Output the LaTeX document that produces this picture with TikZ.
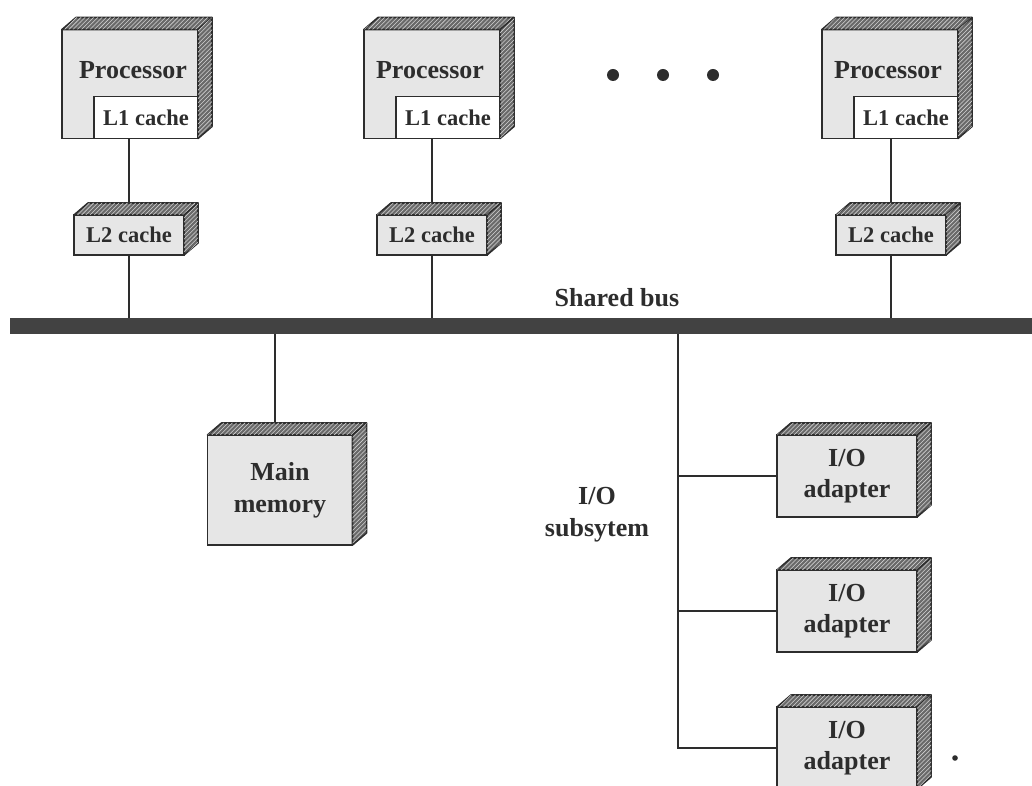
\documentclass[tikz,border=0pt]{standalone}
\usepackage{fontspec}
\setmainfont{Liberation Serif}
\usetikzlibrary{calc,patterns,backgrounds}
\definecolor{inkgray}{RGB}{45,45,45}
\definecolor{frontgray}{RGB}{230,230,230}
\definecolor{shadegray}{RGB}{105,105,105}
\tikzset{
  unit/.style={draw=inkgray, line width=1.3pt, fill=frontgray, inner sep=0pt, outer sep=0pt,
               align=center, text=inkgray, font=\fontsize{18.5}{22.5}\selectfont\bfseries},
  cachebox/.style={unit, font=\fontsize{16}{19}\selectfont\bfseries},
  lone/.style={cachebox, fill=white},
  face/.style={draw=inkgray, line width=1.1pt, fill=shadegray, line join=round,
               postaction={pattern=north east lines, pattern color=gray!35}},
  wire/.style={draw=inkgray, line width=1.4pt},
  busbar/.style={fill=inkgray!90, inner sep=0pt, minimum width=25.55cm, minimum height=0.4cm},
  txt/.style={text=inkgray, align=center, font=\fontsize{18.5}{22.5}\selectfont\bfseries},
}
\begin{document}
\begin{tikzpicture}[x=0.025cm, y=-0.025cm]
  \useasboundingbox (0,0) rectangle (1032,786);

  % processors with their L1 caches
  \node[unit, minimum width=3.4cm, minimum height=2.725cm] (p1) at (130,84) {};
  \node[unit, minimum width=3.4cm, minimum height=2.725cm] (p2) at (432,84) {};
  \node[unit, minimum width=3.4cm, minimum height=2.725cm] (p3) at (890,84) {};
  \node[txt] (p1t) at (133,70) {Processor};
  \node[txt] (p2t) at (430,70) {Processor};
  \node[txt] (p3t) at (888,70) {Processor};
  \node[lone, minimum width=2.6cm, minimum height=1.05cm, anchor=south east] (l1a) at (p1.south east) {L1 cache};
  \node[lone, minimum width=2.6cm, minimum height=1.05cm, anchor=south east] (l1b) at (p2.south east) {L1 cache};
  \node[lone, minimum width=2.6cm, minimum height=1.05cm, anchor=south east] (l1c) at (p3.south east) {L1 cache};

  % L2 caches
  \node[cachebox, minimum width=2.75cm, minimum height=1cm] (c1) at (129,235) {L2 cache};
  \node[cachebox, minimum width=2.75cm, minimum height=1cm] (c2) at (432,235) {L2 cache};
  \node[cachebox, minimum width=2.75cm, minimum height=1cm] (c3) at (891,235) {L2 cache};

  % bus, memory, adapters
  \node[busbar] (bus) at (521,326) {};
  \node[txt] (bust) at (617,298) {Shared bus};
  \node[unit, minimum width=3.625cm, minimum height=2.75cm] (mem) at (280,490) {Main\\memory};
  \node[unit, minimum width=3.5cm, minimum height=2.05cm] (io1) at (847,476) {I/O\\adapter};
  \node[unit, minimum width=3.5cm, minimum height=2.05cm] (io2) at (847,611) {I/O\\adapter};
  \node[unit, minimum width=3.5cm, minimum height=2.05cm] (io3) at (847,748) {I/O\\adapter};
  \node[txt] (iot) at (597,515) {I/O\\subsytem};

  % hatched top and side faces
  \foreach \n in {p1,p2,p3,c1,c2,c3,mem,io1,io2,io3} {
    \filldraw[face] (\n.north west) -- ++(14,-12) -- ($(\n.north east)+(14,-12)$) -- (\n.north east) -- cycle;
    \filldraw[face] (\n.north east) -- ++(14,-12) -- ($(\n.south east)+(14,-12)$) -- (\n.south east) -- cycle;
  }

  % connections
  \begin{scope}[on background layer]
    \draw[wire] (c1.center) -- (c1.center |- p1.south);
    \draw[wire] (c2.center) -- (c2.center |- p2.south);
    \draw[wire] (c3.center) -- (c3.center |- p3.south);
    \draw[wire] (c1.center) -- (c1.center |- bus.center);
    \draw[wire] (c2.center) -- (c2.center |- bus.center);
    \draw[wire] (c3.center) -- (c3.center |- bus.center);
    \draw[wire] ($(mem.center)+(-5,0)$) -- ($(mem.center |- bus.center)+(-5,0)$);
    \coordinate (tap) at (678,326);
    \draw[wire] (tap) -- (tap |- io3.west) -- (io3.west);
    \draw[wire] (tap |- io1.west) -- (io1.west);
    \draw[wire] (tap |- io2.west) -- (io2.west);
  \end{scope}

  % ellipsis dots
  \fill[inkgray] (613,75) circle (0.15cm) (663,75) circle (0.15cm) (713,75) circle (0.15cm);
  \fill[inkgray] (955,758) circle (0.07cm);
\end{tikzpicture}
\end{document}
